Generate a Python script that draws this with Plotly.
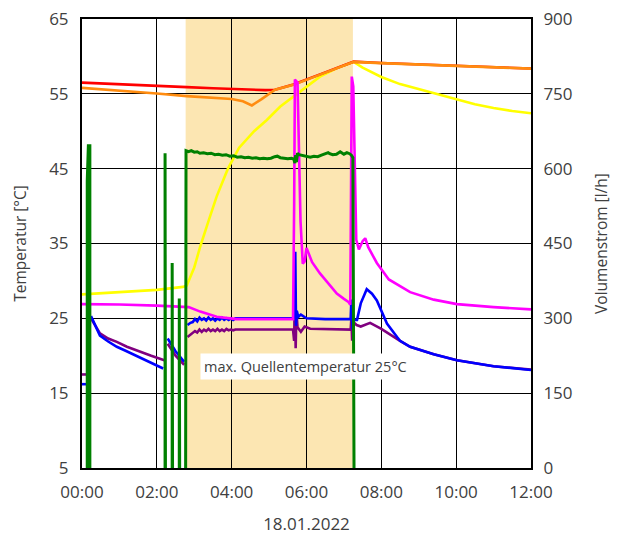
import plotly.graph_objects as go

# ---------------- data (hours since 00:00) ----------------
x_ticks = [0, 2, 4, 6, 8, 10, 12]
x_tick_labels = ["00:00", "02:00", "04:00", "06:00", "08:00", "10:00", "12:00"]
y_left_ticks = [5, 15, 25, 35, 45, 55, 65]
y_right_ticks = [0, 150, 300, 450, 600, 750, 900]

red_t = [0, 1, 2, 2.8, 3.5, 4.2, 4.9, 5.16, 5.65, 6.36, 7.26, 8, 9, 10, 11, 12]
red_v = [56.5, 56.25, 56.0, 55.9, 55.75, 55.6, 55.5, 55.55, 56.25, 57.6, 59.3, 59.12, 58.93, 58.72, 58.56, 58.38]

orange_t = [0, 1, 2, 2.8, 3.5, 4.0, 4.3, 4.54, 4.8, 5.16, 5.65, 6.36, 7.26, 8, 9, 10, 11, 12]
orange_v = [55.8, 55.45, 55.05, 54.7, 54.5, 54.3, 54.0, 53.45, 54.3, 55.55, 56.2, 57.56, 59.27, 59.1, 58.9, 58.7, 58.55, 58.37]

yellow_t = [0, 1, 2, 2.7, 2.8, 3.0, 3.16, 3.4, 3.6, 3.9, 4.2, 4.6, 4.94, 5.3, 5.74, 6.0, 6.36, 6.8, 7.26,
            7.5, 8.0, 8.5, 9.0, 9.5, 10.0, 10.5, 11.0, 11.5, 12.0]
yellow_v = [28.2, 28.5, 28.8, 29.2, 29.4, 31.8, 34.6, 38.3, 41.3, 45.0, 47.8, 50.0, 51.5, 53.3, 55.0, 56.0, 57.3, 58.4, 59.27,
            58.5, 57.25, 56.3, 55.6, 54.9, 54.2, 53.6, 53.1, 52.7, 52.4]

magenta_t = [0, 1, 2, 2.7, 2.85, 3.16, 3.6, 4.13, 5.0, 5.64, 5.67, 5.69, 5.76, 5.80, 5.84, 5.90, 5.95, 6.0, 6.05,
             6.15, 6.36, 6.6, 6.81, 7.0, 7.12, 7.17, 7.19, 7.21, 7.25, 7.29, 7.33, 7.4, 7.5, 7.57, 7.65, 7.88,
             8.2, 8.77, 9.4, 10.02, 11.0, 12.0]
magenta_v = [26.9, 26.85, 26.7, 26.6, 26.5, 25.9, 25.2, 24.9, 24.9, 24.9, 40.0, 56.9, 56.5, 48.0, 38.0, 32.3, 32.6, 34.4, 33.8,
             32.5, 31.0, 29.5, 28.3, 27.6, 27.2, 26.8, 40.0, 57.3, 56.0, 45.0, 35.5, 34.2, 35.3, 35.7, 34.5, 32.4,
             30.2, 28.5, 27.5, 26.9, 26.5, 26.2]

blue_t = [0, 0.13, None, 0.24, 0.35, 0.48, 0.7, 0.93, 1.15, 1.37, 1.8, 2.17, None, 2.29, 2.5, 2.73, None,
          2.82, 2.9, 2.96, 3.02, 3.08, 3.14, 3.2, 3.26, 3.32, 3.38, 3.44, 3.5, 3.56, 3.62, 3.68, 3.74, 3.8, 3.86,
          3.92, 3.98, 4.04, 4.1, 4.2, 5.0, 5.64, 5.67, 5.70,
          5.72, 5.74, 5.78, 5.85, 6.0, 6.5, 7.18, 7.2, 7.23, 7.27, 7.35, 7.45, 7.61, 7.75, 7.88, 8.15, 8.42,
          8.5, 8.77, 9.4, 10.02, 11.0, 12.0]
blue_v = [16.2, 16.2, None, 25.3, 24.0, 22.7, 21.9, 21.2, 20.7, 20.2, 19.2, 18.3, None, 22.3, 20.6, 19.2, None,
          24.1, 24.4, 24.5, 24.9, 24.6, 25.1, 24.8, 25.0, 24.7, 25.1, 24.8, 25.0, 24.7, 25.0, 24.8, 25.1, 24.8, 25.0,
          24.8, 25.0, 24.8, 25.0, 25.0, 25.0, 25.0, 25.5, 33.9,
          24.0, 26.0, 25.2, 25.5, 25.0, 24.9, 24.9, 27.5, 23.5, 24.8, 24.8, 27.0, 28.9, 28.3, 27.4, 24.3, 22.5,
          22.0, 21.2, 20.2, 19.4, 18.6, 18.1]

purple_t = [0, 0.13, None, 0.24, 0.35, 0.48, 0.7, 0.93, 1.2, 1.55, 1.85, 2.2, None, 2.29, 2.5, 2.73, None,
            2.82, 2.9, 2.96, 3.02, 3.08, 3.14, 3.2, 3.26, 3.32, 3.38, 3.44, 3.5, 3.56, 3.62, 3.68, 3.74, 3.8, 3.86,
            3.92, 3.98, 4.04, 4.1, 4.2, 5.0, 5.64, 5.67, 5.69,
            5.71, 5.73, 5.76, 5.85, 5.95, 6.1, 7.18, 7.2, 7.22, 7.25, 7.34, 7.45, 7.7, 8.0, 8.5, 8.77, 9.4,
            10.02, 11.0, 12.0]
purple_v = [17.5, 17.5, None, 25.0, 24.0, 23.0, 22.3, 21.85, 21.2, 20.5, 20.0, 19.4, None, 21.6, 20.0, 18.8, None,
            22.5, 22.8, 23.0, 23.3, 23.1, 23.5, 23.2, 23.5, 23.3, 23.6, 23.3, 23.5, 23.3, 23.6, 23.3, 23.5, 23.3, 23.6,
            23.4, 23.5, 23.4, 23.5, 23.5, 23.5, 23.5, 22.0, 29.0,
            21.0, 26.0, 23.8, 23.2, 23.9, 23.6, 23.5, 25.0, 22.0, 24.5, 24.1, 23.9, 24.4, 23.6, 22.0, 21.2, 20.2,
            19.4, 18.6, 18.15]

green_t = [0.14, 0.14, 0.17, 0.21, 0.21, None,
           2.22, 2.22, 2.23, 2.23, None,
           2.41, 2.41, 2.42, 2.42, None,
           2.60, 2.60, 2.61, 2.61, None,
           2.77, 2.78, 2.85, 2.92, 3.0, 3.08, 3.15, 3.25, 3.35, 3.45, 3.55, 3.65, 3.75, 3.85, 3.95, 4.05,
           4.15, 4.25, 4.35, 4.45, 4.55, 4.65, 4.75, 4.85, 4.95, 5.05, 5.15, 5.22, 5.3, 5.4, 5.5, 5.6,
           5.66, 5.69, 5.71, 5.73, 5.76, 5.8, 5.9, 6.0, 6.1, 6.2, 6.3, 6.4, 6.5, 6.58, 6.62, 6.7, 6.8,
           6.9, 7.0, 7.08, 7.15, 7.2, 7.24, 7.26, 7.27]
green_v = [0, 575, 646, 646, 0, None,
           0, 631, 631, 0, None,
           0, 411, 411, 0, None,
           0, 340, 340, 0, None,
           0, 636, 634, 636, 633, 634, 631, 632, 630, 631, 628, 629, 627, 628, 625, 626,
           623, 624, 622, 623, 621, 622, 620, 621, 620, 621, 624, 625, 622, 621, 620, 621,
           619, 611, 627, 613, 631, 628, 626, 624, 623, 625, 624, 627, 629, 632, 630, 628, 629,
           634, 629, 632, 630, 627, 622, 300, 0]

shade_start = 2.77
shade_end = 7.24
note_text = "max. Quellentemperatur 25°C"
x_title = "18.01.2022"
y_left_title = "Temperatur [°C]"
y_right_title = "Volumenstrom [l/h]"

# ---------------- figure ----------------
FONT = "Open Sans"
TXT = "#404040"
fig = go.Figure()

def add(t, v, color, width=2.6, axis="y"):
    fig.add_trace(go.Scatter(x=t, y=v, mode="lines", yaxis=axis,
                             line=dict(color=color, width=width),
                             connectgaps=False, hoverinfo="skip", showlegend=False))

add(yellow_t, yellow_v, "#FFFF00")
add(red_t, red_v, "#FF0000")
add(orange_t, orange_v, "#FF8C10")
add(purple_t, purple_v, "#800080")
add(blue_t, blue_v, "#0000FF")
add(magenta_t, magenta_v, "#FF00FF")
add(green_t, green_v, "#008000", width=3, axis="y2")

fig.add_shape(type="rect", xref="x", yref="paper", x0=shade_start, x1=shade_end, y0=0, y1=1,
              fillcolor="#FCE6B2", line=dict(width=0), layer="below")

fig.add_annotation(x=5.96, y=18.5, xref="x", yref="y", text=note_text, showarrow=False,
                   bgcolor="white", font=dict(family=FONT, size=14.5, color=TXT),
                   borderpad=3)

# page body has an 8px margin, so the figure is sized/offset to compensate
fig.update_layout(
    width=612, height=527,
    margin=dict(l=74, r=89, t=11, b=67),
    paper_bgcolor="white", plot_bgcolor="white",
    font=dict(family=FONT, color=TXT),
    showlegend=False,
    xaxis=dict(range=[0, 12], tickvals=x_ticks, ticktext=x_tick_labels, automargin=False,
               showgrid=True, gridcolor="#000000", gridwidth=1,
               showline=True, linecolor="#000000", linewidth=2, mirror=True,
               ticks="", ticklabelstandoff=8, zeroline=False, ticklabeloverflow="allow",
               tickfont=dict(family=FONT, size=17, color=TXT),
               title=dict(text=x_title, font=dict(family=FONT, size=17, color=TXT), standoff=17)),
    yaxis=dict(range=[5, 65], tickvals=y_left_ticks, automargin=False,
               showgrid=True, gridcolor="#000000", gridwidth=1,
               showline=True, linecolor="#000000", linewidth=2, mirror=True,
               ticks="", ticklabelstandoff=8, zeroline=False, ticklabeloverflow="allow",
               tickfont=dict(family=FONT, size=17, color=TXT),
               title=dict(text=y_left_title, font=dict(family=FONT, size=15.5, color=TXT), standoff=19)),
    yaxis2=dict(range=[0, 900], tickvals=y_right_ticks, overlaying="y", side="right", automargin=False,
                showgrid=False, showline=True, linecolor="#000000", linewidth=2,
                ticks="", ticklabelstandoff=7, zeroline=False, ticklabeloverflow="allow",
                tickfont=dict(family=FONT, size=17, color=TXT),
                title=dict(text=y_right_title, font=dict(family=FONT, size=15.5, color=TXT), standoff=25)),
)

fig.write_html("out.html")
